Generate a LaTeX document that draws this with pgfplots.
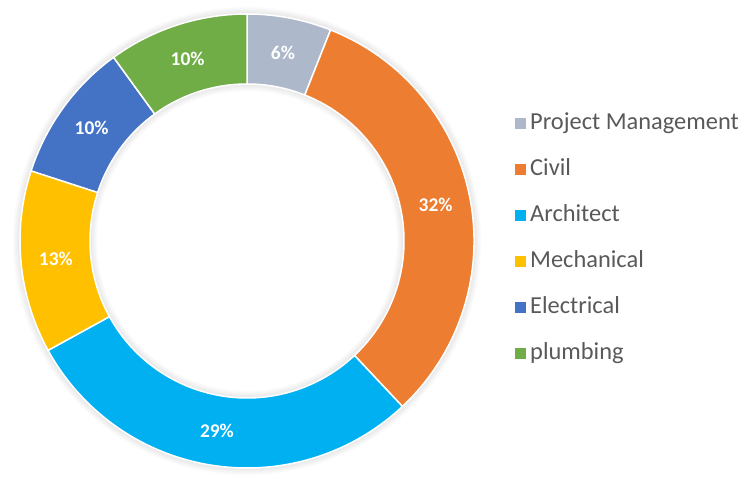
\documentclass[border=0pt]{standalone}
\usepackage{pgfplots}
\pgfplotsset{compat=1.18}
\usepackage{pgfplotstable}
\usepackage{fontspec}
\setmainfont{Carlito}
\usetikzlibrary{calc}

\definecolor{cPM}{HTML}{ADB9CA}
\definecolor{cCivil}{HTML}{ED7D31}
\definecolor{cArch}{HTML}{00B0F0}
\definecolor{cMech}{HTML}{FFC000}
\definecolor{cElec}{HTML}{4472C4}
\definecolor{cPlumb}{HTML}{70AD47}
\definecolor{legtext}{HTML}{595959}

% share of each discipline, in percent
\pgfplotstableread[col sep=comma]{
name,value,colour
Project Management,6,cPM
Civil,32,cCivil
Architect,29,cArch
Mechanical,13,cMech
Electrical,10,cElec
plumbing,10,cPlumb
}\donutdata

\begin{document}
\begin{tikzpicture}
% start / end / middle angle of every slice, clockwise from the top
\def\cum{0}
\pgfplotsforeachungrouped \i in {0,...,5}{%
  \pgfplotstablegetelem{\i}{value}\of\donutdata
  \pgfmathtruncatemacro\vv{\pgfplotsretval}
  \expandafter\xdef\csname dval\i\endcsname{\vv}
  \pgfplotstablegetelem{\i}{colour}\of\donutdata
  \expandafter\xdef\csname dcol\i\endcsname{\pgfplotsretval}
  \pgfplotstablegetelem{\i}{name}\of\donutdata
  \expandafter\xdef\csname dname\i\endcsname{\pgfplotsretval}
  \pgfmathsetmacro\sa{90-3.6*\cum}
  \pgfmathsetmacro\ea{90-3.6*(\cum+\vv)}
  \pgfmathsetmacro\ma{(\sa+\ea)/2}
  \expandafter\xdef\csname dsa\i\endcsname{\sa}
  \expandafter\xdef\csname dea\i\endcsname{\ea}
  \expandafter\xdef\csname dma\i\endcsname{\ma}
  \pgfmathsetmacro\cum{\cum+\vv}
}
\begin{axis}[
  scale only axis,
  width=747bp, height=470bp,
  xmin=0, xmax=747, ymin=0, ymax=470,
  hide axis,
  clip=false,
  legend image code/.code={\fill[#1, draw=none] (0bp,-5.5bp) rectangle (11bp,5.5bp);},
  legend cell align=left,
  legend style={
    at={(axis cs:515,231)}, anchor=west,
    draw=none, fill=none, inner sep=0pt,
    row sep=25bp,
    font=\fontsize{24.5}{29}\selectfont,
    nodes={inner xsep=4bp, inner ysep=0pt, text height=16bp, text depth=5bp, text=legtext},
  },
]
\path (axis cs:0,0) rectangle (axis cs:747,470);
% soft shadow round the ring
\pgfplotsinvokeforeach{1,...,7}{
  \draw[black, opacity={0.012*(8-#1)}, line width=1.2bp]
    (axis cs:247,229) circle[radius={226bp+#1*1.1bp}];
  \draw[black, opacity={0.012*(8-#1)}, line width=1.2bp]
    (axis cs:247,229) circle[radius={158bp-#1*1.1bp}];
}
\pgfplotsinvokeforeach{0,...,5}{%
  \edef\temp{\noexpand\fill[fill=\csname dcol#1\endcsname, draw=white, line width=1.5bp]
    (axis cs:247,229) ++(\csname dsa#1\endcsname:227bp)
    arc[start angle=\csname dsa#1\endcsname, end angle=\csname dea#1\endcsname, radius=227bp]
    -- ++(\csname dea#1\endcsname:-70bp)
    arc[start angle=\csname dea#1\endcsname, end angle=\csname dsa#1\endcsname, radius=157bp]
    -- cycle;
    \noexpand\node[text=white, font=\noexpand\bfseries\noexpand\fontsize{19.5}{19}\noexpand\selectfont]
      at ($(axis cs:247,229)+(\csname dma#1\endcsname:192bp)$) {\csname dval#1\endcsname\noexpand\%};
    \noexpand\addlegendimage{fill=\csname dcol#1\endcsname}
    \noexpand\addlegendentry{\csname dname#1\endcsname}}%
  \temp
}
\end{axis}
\end{tikzpicture}
\end{document}
